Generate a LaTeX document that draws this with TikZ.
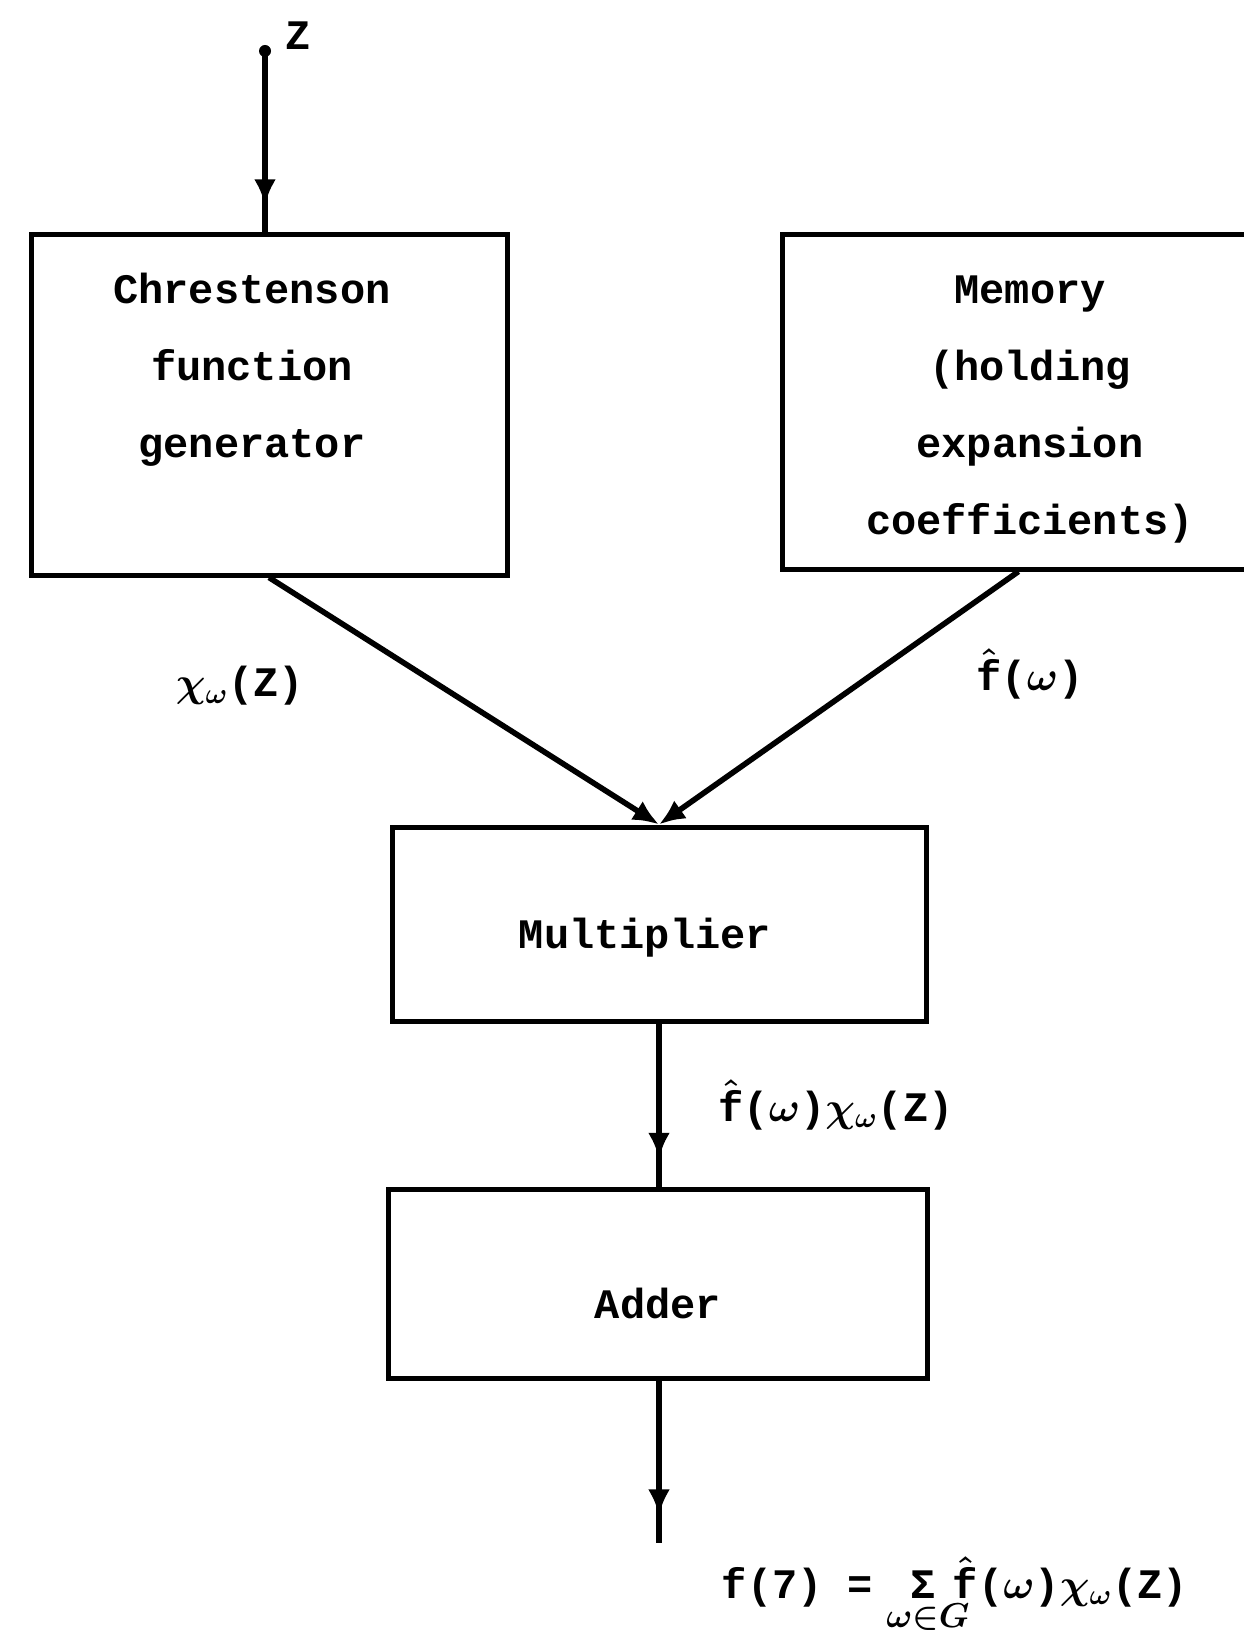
\documentclass[tikz,border=0pt]{standalone}
\usepackage{amsmath}
\usepackage{fontspec}
\setmonofont{Liberation Mono}
\usetikzlibrary{arrows.meta, decorations.markings, positioning}
\newcommand{\fhat}{\hat{\mbox{f}}}
\newcommand{\chiw}{\chi_{\omega}}

\tikzset{
  blockbox/.style={draw, line width=2.5pt, inner sep=0pt},
  blocktext/.style={font=\ttfamily\bfseries\boldmath\fontsize{21}{38.5}\selectfont, align=center, inner sep=0pt},
  flow/.style={line width=2.8pt},
  tip/.style={-{Latex[length=13pt, width=11pt]}},
  midtip/.style={postaction={decorate}, decoration={markings, mark=at position #1 with {\arrow{Latex[length=13pt, width=11pt]}}}}
}

\begin{document}
\begin{tikzpicture}[x=0.5pt, y=-0.5pt]
                        \useasboundingbox (0,0) rectangle (1243,1631);

                        \node[blockbox, minimum width=238pt, minimum height=170pt] (chr) at (269, 405) {};
                        \node[blockbox, minimum width=236.5pt, minimum height=167pt] (mem) at (1018.5, 402) {};
                        \node[blockbox, minimum width=267pt, minimum height=97pt] (mul) at (659, 924) {};
                        \node[blockbox, minimum width=269.5pt, minimum height=94.5pt] (add) at (658, 1283.5) {};

                        \node[blocktext] (chrtext) at (252, 370) {Chrestenson\\function\\generator};
                        \node[blocktext] (memtext) at (1030, 410) {Memory\\(holding\\expansion\\coefficients)};
                        \node[blocktext] (multext) at (645, 938) {Multiplier};
                        \node[blocktext] (addtext) at (658, 1303) {Adder};

                        \node[circle, fill, inner sep=0pt, minimum size=6pt] (zin) at (265, 51) {};
                        \node[blocktext] (zlabel) at (298, 36) {Z};
                        \coordinate (out) at (659, 1543);

                        \node[blocktext] (chilabel) at (240, 686) {$\chiw$(Z)};
                        \node[blocktext] (flabel) at (1030, 674) {$\fhat$($\omega$)};
                        \node[blocktext] (prodlabel) at (836, 1105) {$\fhat$($\omega$)$\chiw$(Z)};
                        \node[blocktext, anchor=base] (sumlabel) at (955, 1598)
                          {f(7) =\hspace{0.9em}Σ\hspace{0.4em}$\fhat$($\omega$)$\chiw$(Z)};
                        \node[blocktext, font=\bfseries\boldmath\fontsize{17}{17}\selectfont] (sumsub) at (928, 1617) {$\omega{\in}G$};

                        \draw[flow, midtip=0.85] (zin.center) -- (zin |- chr.north);
                        \draw[flow, tip]
                        (chr.south) -- (mul.north);
                        \draw[flow, tip]
                        (mem.south) -- (mul.north);
                        \draw[flow, midtip=0.83] (mul.south) -- (mul.south |- add.north);
                        \draw[flow, midtip=0.83] (add.south -| out) -- (out);
                    \end{tikzpicture}
\end{document}
